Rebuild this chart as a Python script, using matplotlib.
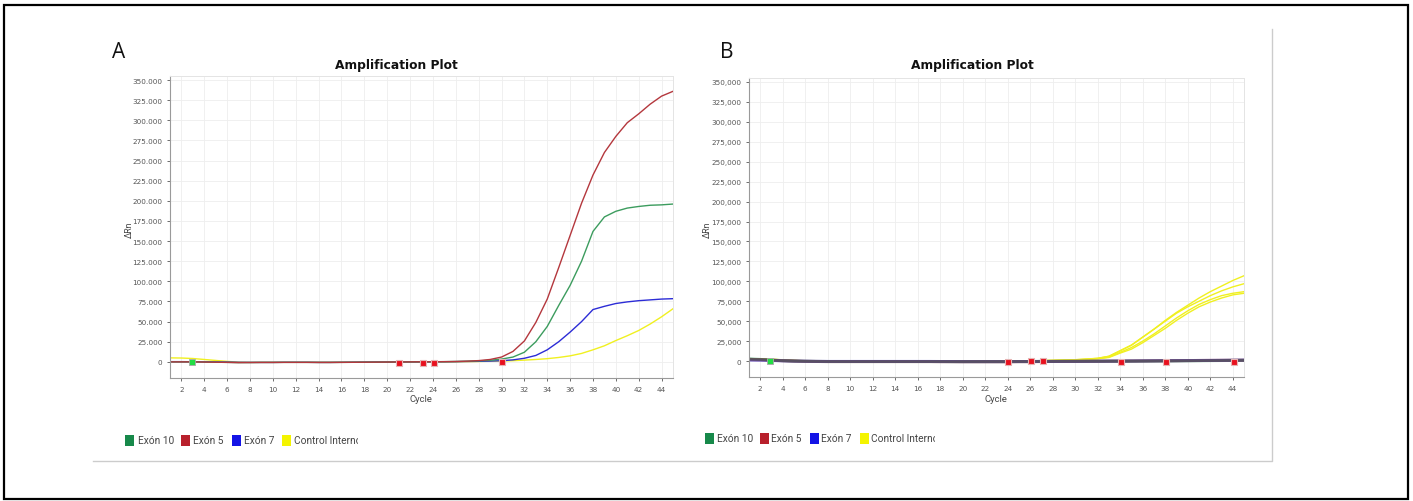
import matplotlib
matplotlib.use("Agg")
import matplotlib.pyplot as plt
from matplotlib.patches import Rectangle
from matplotlib.lines import Line2D
from matplotlib.transforms import Bbox
from matplotlib.ticker import FuncFormatter

W, H = 1413, 502

cycles = list(range(1, 46))

# panel A: one well per target
a_exon10 = [0, 0, 0, -200, -400, -600, -900, -800, -700, -700, -600, -600, -600, -700, -700,
            -600, -500, -400, -300, -200, -100, 0, 100, 200, 300, 500, 800, 1200, 2000, 3500,
            6000, 12000, 25000, 44000, 70000, 95000, 125000, 162000, 180000, 187000, 191000,
            193000, 194500, 195000, 196000]
a_exon5 = [0, 0, 0, -200, -400, -600, -900, -800, -700, -700, -600, -600, -600, -700, -700,
           -600, -500, -400, -300, -200, -100, 0, 100, 200, 300, 500, 900, 1600, 3000, 6000,
           13000, 26000, 49000, 78000, 117000, 157000, 197000, 232000, 260000, 280000, 297000,
           308000, 320000, 330000, 336000]
a_exon7 = [300, 300, 200, 100, 0, -200, -500, -600, -600, -600, -500, -500, -500, -600, -600,
           -500, -400, -300, -200, -200, -100, 0, 0, 100, 200, 300, 500, 700, 1000, 1500,
           2500, 4500, 8000, 15000, 25000, 37000, 50000, 65000, 69000, 72500, 74500, 76000,
           77000, 78000, 78500]
a_control = [5000, 4800, 4200, 3000, 1800, 600, -300, -600, -500, -500, -500, -500, -500, -500,
             -500, -400, -400, -300, -300, -300, -200, -100, 0, 0, 0, 100, 300, 500, 800, 1000,
             1500, 2200, 3000, 4000, 5500, 7500, 10500, 15000, 20000, 26500, 32500, 39000,
             47000, 56000, 66000]
a_marker_green = [2.9]
a_marker_red = [21.05, 23.1, 24.05, 30.0]
a_marker_red_y = [-1500, -1500, -1500, 0]

# panel B: internal control wells amplify, exon wells stay flat
b_control = [
    [3000, 2800, 2300, 1500, 800, 300, 0, -300, -600, -900, -1100, -1200, -1200, -1200, -1200,
     -1200, -1100, -1000, -900, -800, -600, -300, -100, 0, 200, 300, 500, 800, 1200, 1700,
     2500, 3500, 6000, 13000, 20000, 30000, 40000, 51000, 61000, 70000, 79000, 87000, 94000,
     101000, 107000],
    [2800, 2600, 2100, 1400, 700, 200, -100, -400, -700, -900, -1000, -1100, -1100, -1100, -1100,
     -1100, -1000, -900, -800, -700, -500, -300, -100, 0, 100, 300, 500, 800, 1100, 1600,
     2400, 3400, 6000, 13000, 20000, 30000, 40000, 50000, 60000, 68000, 75000, 82000, 88000,
     93000, 97000],
    [2500, 2300, 1900, 1200, 600, 100, -200, -500, -700, -900, -1000, -1000, -1000, -1000, -1000,
     -1000, -900, -800, -700, -600, -500, -300, -100, 0, 100, 200, 400, 700, 1000, 1400,
     2100, 3000, 5000, 11000, 17000, 25000, 34000, 44000, 54000, 63000, 71000, 77000, 82000,
     85000, 87000],
    [2200, 2000, 1600, 1000, 400, 0, -300, -500, -700, -800, -900, -900, -900, -900, -900,
     -900, -800, -700, -600, -500, -400, -200, -100, 0, 100, 200, 400, 600, 900, 1300,
     1900, 2800, 4500, 10000, 15000, 23000, 32000, 41000, 51000, 60000, 68000, 74000, 79000,
     83000, 85000],
]
b_exon10 = [2500, 2000, 1200, 500, 0, -300, -500, -600, -600, -600, -600, -600, -600, -600, -600,
            -600, -600, -600, -700, -700, -700, -700, -700, -700, -600, -600, -500, -500, -400,
            -400, -300, -300, -200, -200, -100, 0, 100, 200, 300, 400, 500, 600, 700, 800, 900]
b_exon5 = [1800, 1500, 1000, 400, 0, -300, -500, -600, -600, -600, -600, -600, -600, -600, -600,
           -600, -600, -700, -700, -800, -800, -800, -800, -800, -700, -700, -600, -500, -500,
           -400, -300, -200, -100, 0, 100, 200, 300, 400, 500, 600, 700, 800, 900, 1000, 1100]
b_exon7 = [1200, 1000, 700, 300, 0, -200, -400, -500, -500, -500, -500, -500, -500, -500, -500,
           -500, -500, -600, -600, -700, -700, -700, -700, -700, -600, -600, -500, -500, -400,
           -400, -300, -200, -100, 0, 100, 200, 300, 400, 500, 600, 700, 800, 900, 1000, 1200]
b_marker_green = [2.9]
b_marker_red = [24.05, 26.1, 27.1, 34.1, 38.1, 44.1]
b_marker_red_y = [-1000, 0, -500, -1000, -1000, -700]

legend_labels = ["Exón 10", "Exón 5", "Exón 7", "Control Interno"]
legend_colors = ["#17894a", "#b8202c", "#1414e6", "#f4f400"]

line_green = "#3c9c5e"
line_red = "#b4373d"
line_blue = "#2c2cd6"
line_yellow = "#f0f020"

xticks = list(range(2, 46, 2))
yticks = list(range(0, 350001, 25000))


def fx(px):
    return px / W


def fy(py):
    return 1 - py / H


def style_axes(ax, sep):
    ax.set_xlim(1, 45)
    ax.set_ylim(-20000, 355000)
    ax.set_xticks(xticks)
    ax.set_yticks(yticks)
    ax.yaxis.set_major_formatter(FuncFormatter(lambda v, p: f"{int(v):,}".replace(",", sep)))
    ax.tick_params(labelsize=5.2, colors="#555555", length=2.5, width=0.6, pad=3)
    ax.grid(True, color="#eeeeee", linewidth=0.6)
    ax.set_axisbelow(True)
    for side in ["top", "right"]:
        ax.spines[side].set_color("#e4e4e4")
        ax.spines[side].set_linewidth(0.7)
    for side in ["left", "bottom"]:
        ax.spines[side].set_color("#9a9a9a")
        ax.spines[side].set_linewidth(0.8)


def draw_legend(fig, x_sq, x_txt, y, clip_x):
    for i, (lab, col) in enumerate(zip(legend_labels, legend_colors)):
        fig.add_artist(Rectangle((fx(x_sq[i]), fy(y + 6)), 9 / W, 11 / H,
                                 transform=fig.transFigure, facecolor=col, edgecolor="none"))
        t = fig.text(fx(x_txt[i]), fy(y), lab, fontsize=7.3, family="Roboto",
                     color="#444444", va="center", ha="left")
        if i == len(legend_labels) - 1:
            t.set_clip_box(Bbox.from_extents(0, 0, clip_x, H))
            t.set_clip_on(True)


fig = plt.figure(figsize=(W / 100, H / 100), dpi=100)

# frames
fig.add_artist(Rectangle((fx(4), fy(500)), 1404 / W, 494 / H, transform=fig.transFigure,
                         fill=False, edgecolor="black", linewidth=1.6))
fig.add_artist(Line2D([fx(93), fx(1272), fx(1272)], [fy(462), fy(462), fy(30)],
                      transform=fig.transFigure, color="#cccccc", linewidth=1.0))

# panel A
axA = fig.add_axes([fx(170), fy(379), fx(673) - fx(170), fy(77) - fy(379)])
style_axes(axA, ".")
axA.plot(cycles, a_control, color=line_yellow, linewidth=1.0)
axA.plot(cycles, a_exon7, color=line_blue, linewidth=1.0)
axA.plot(cycles, a_exon10, color=line_green, linewidth=1.0)
axA.plot(cycles, a_exon5, color=line_red, linewidth=1.0)
axA.scatter(a_marker_green, [0] * len(a_marker_green), marker="s", s=22, color="#22dd44",
            edgecolors="#aaaaaa", linewidths=0.6, zorder=5)
axA.scatter(a_marker_red, a_marker_red_y, marker="s", s=16, color="#e8101e",
            edgecolors="#e6b4b4", linewidths=0.8, zorder=5)

# panel B
axB = fig.add_axes([fx(749), fy(378), fx(1244) - fx(749), fy(79) - fy(378)])
style_axes(axB, ",")
for curve in b_control:
    axB.plot(cycles, curve, color=line_yellow, linewidth=1.0)
axB.plot(cycles, b_exon10, color=line_green, linewidth=2.2, alpha=0.8)
axB.plot(cycles, b_exon5, color=line_red, linewidth=2.2, alpha=0.7)
axB.plot(cycles, b_exon7, color=line_blue, linewidth=2.2, alpha=0.5)
axB.plot(cycles, b_exon10, color="#555555", linewidth=1.8, alpha=0.75)
axB.scatter(b_marker_green, [0] * len(b_marker_green), marker="s", s=22, color="#22dd44",
            edgecolors="#aaaaaa", linewidths=0.6, zorder=5)
axB.scatter(b_marker_red, b_marker_red_y, marker="s", s=16, color="#e8101e",
            edgecolors="#e6b4b4", linewidths=0.8, zorder=5)

# titles, labels
for x_title, x_axc, x_yl, letter, x_let in [(396, 421, 129, "A", 119), (972, 996, 707, "B", 727)]:
    fig.text(fx(x_title), fy(65), "Amplification Plot", fontsize=8.8, fontweight="bold",
             family="DejaVu Sans", ha="center", va="center", color="#111111")
    fig.text(fx(x_axc), fy(400), "Cycle", fontsize=6.8, family="Roboto", ha="center",
             va="center", color="#444444")
    fig.text(fx(x_yl), fy(230), "ΔRn", fontsize=6.3, family="Roboto", ha="center",
             va="center", rotation=90, color="#444444")
    fig.text(fx(x_let), fy(53), letter, fontsize=15, family="Open Sans", ha="center",
             va="center", color="#111111")

draw_legend(fig, [125, 181, 232, 282], [138, 193, 244, 294], 441, 358)
draw_legend(fig, [705, 760, 810, 860], [717, 771, 821, 871], 439, 935)

fig.savefig("out.png", dpi=100)
